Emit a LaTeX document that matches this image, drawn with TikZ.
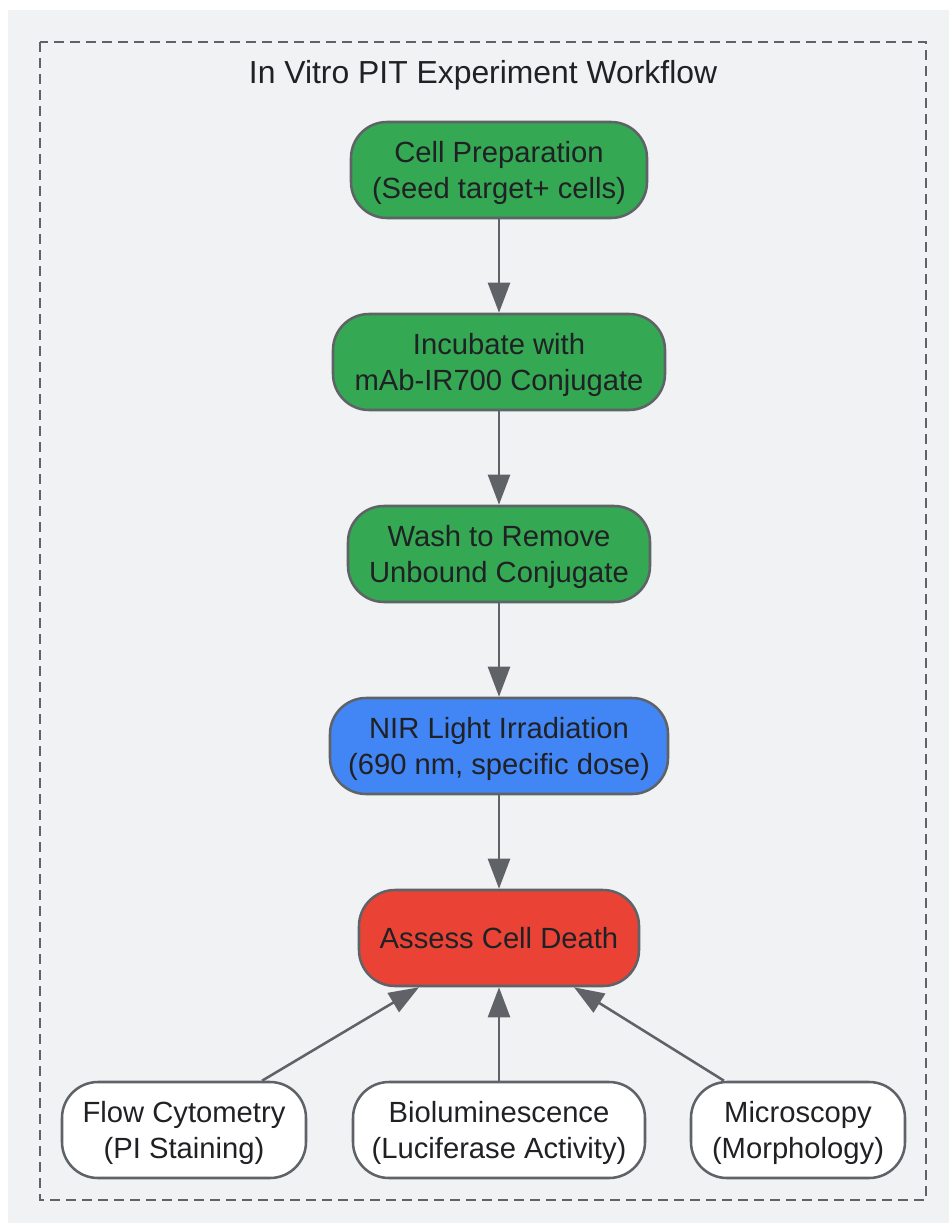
\documentclass[tikz,border=0pt]{standalone}
\usepackage{fontspec}
\setmainfont{Liberation Sans}
\usetikzlibrary{arrows.meta}
\definecolor{bggray}{HTML}{F1F2F4}
\definecolor{linegray}{HTML}{5F6368}
\definecolor{txtdark}{HTML}{202124}
\definecolor{stepgreen}{HTML}{34A853}
\definecolor{stepblue}{HTML}{4285F4}
\definecolor{stepred}{HTML}{EA4335}
\newcommand{\nodestrut}{\rule[-4.6pt]{0pt}{24.4pt}}
\newcommand{\twolines}[2]{\nodestrut#1\\#2\nodestrut}
\begin{document}
\begin{tikzpicture}[x=0.75pt,y=0.75pt,yscale=-1,xscale=1,
  box/.style={draw=linegray,line width=1.9pt,rounded corners=27pt,minimum height=72pt,
    align=center,inner sep=0pt,text=txtdark,font=\fontsize{21.9}{27}\selectfont},
  edge/.style={draw=linegray,line width=1.9pt,-{Triangle[length=22.5pt,width=16.5pt]}}]
\useasboundingbox (0,0) rectangle (949,1223);
\fill[bggray] (8,10) rectangle (949,1223);
\draw[linegray,line width=1.6pt,dash pattern={on 7.5pt off 4.5pt}] (40,42) rectangle (926,1200);
\node[text=txtdark,inner sep=0pt,font=\fontsize{23.9}{29}\selectfont] (title) at (483,72) {\rule[-5pt]{0pt}{26.6pt}In Vitro PIT Experiment Workflow};
\node[box,fill=stepgreen,minimum width=222pt] (prep) at (499,170) {\twolines{Cell Preparation}{(Seed target+ cells)}};
\node[box,fill=stepgreen,minimum width=249pt] (incub) at (499,362) {\twolines{Incubate with}{mAb-IR700 Conjugate}};
\node[box,fill=stepgreen,minimum width=226.5pt] (wash) at (499,554) {\twolines{Wash to Remove}{Unbound Conjugate}};
\node[box,fill=stepblue,minimum width=253.5pt] (nir) at (499,746) {\twolines{NIR Light Irradiation}{(690 nm, specific dose)}};
\node[box,fill=stepred,minimum width=210pt] (assess) at (499,938) {\nodestrut Assess Cell Death};
\node[box,fill=white,minimum width=183pt] (flow) at (184,1130) {\twolines{Flow Cytometry}{(PI Staining)}};
\node[box,fill=white,minimum width=219pt] (biolum) at (499,1130) {\twolines{Bioluminescence}{(Luciferase Activity)}};
\node[box,fill=white,minimum width=160.5pt] (micro) at (798,1130) {\twolines{Microscopy}{(Morphology)}};
\draw[edge] (prep) -- (incub);
\draw[edge] (incub) -- (wash);
\draw[edge] (wash) -- (nir);
\draw[edge] (nir) -- (assess);
\draw[edge] ([xshift=58.5pt]flow.north) -- ([xshift=-60pt]assess.south);
\draw[edge] (biolum) -- (assess);
\draw[edge] ([xshift=-55.5pt]micro.north) -- ([xshift=56.25pt]assess.south);
\end{tikzpicture}
\end{document}
